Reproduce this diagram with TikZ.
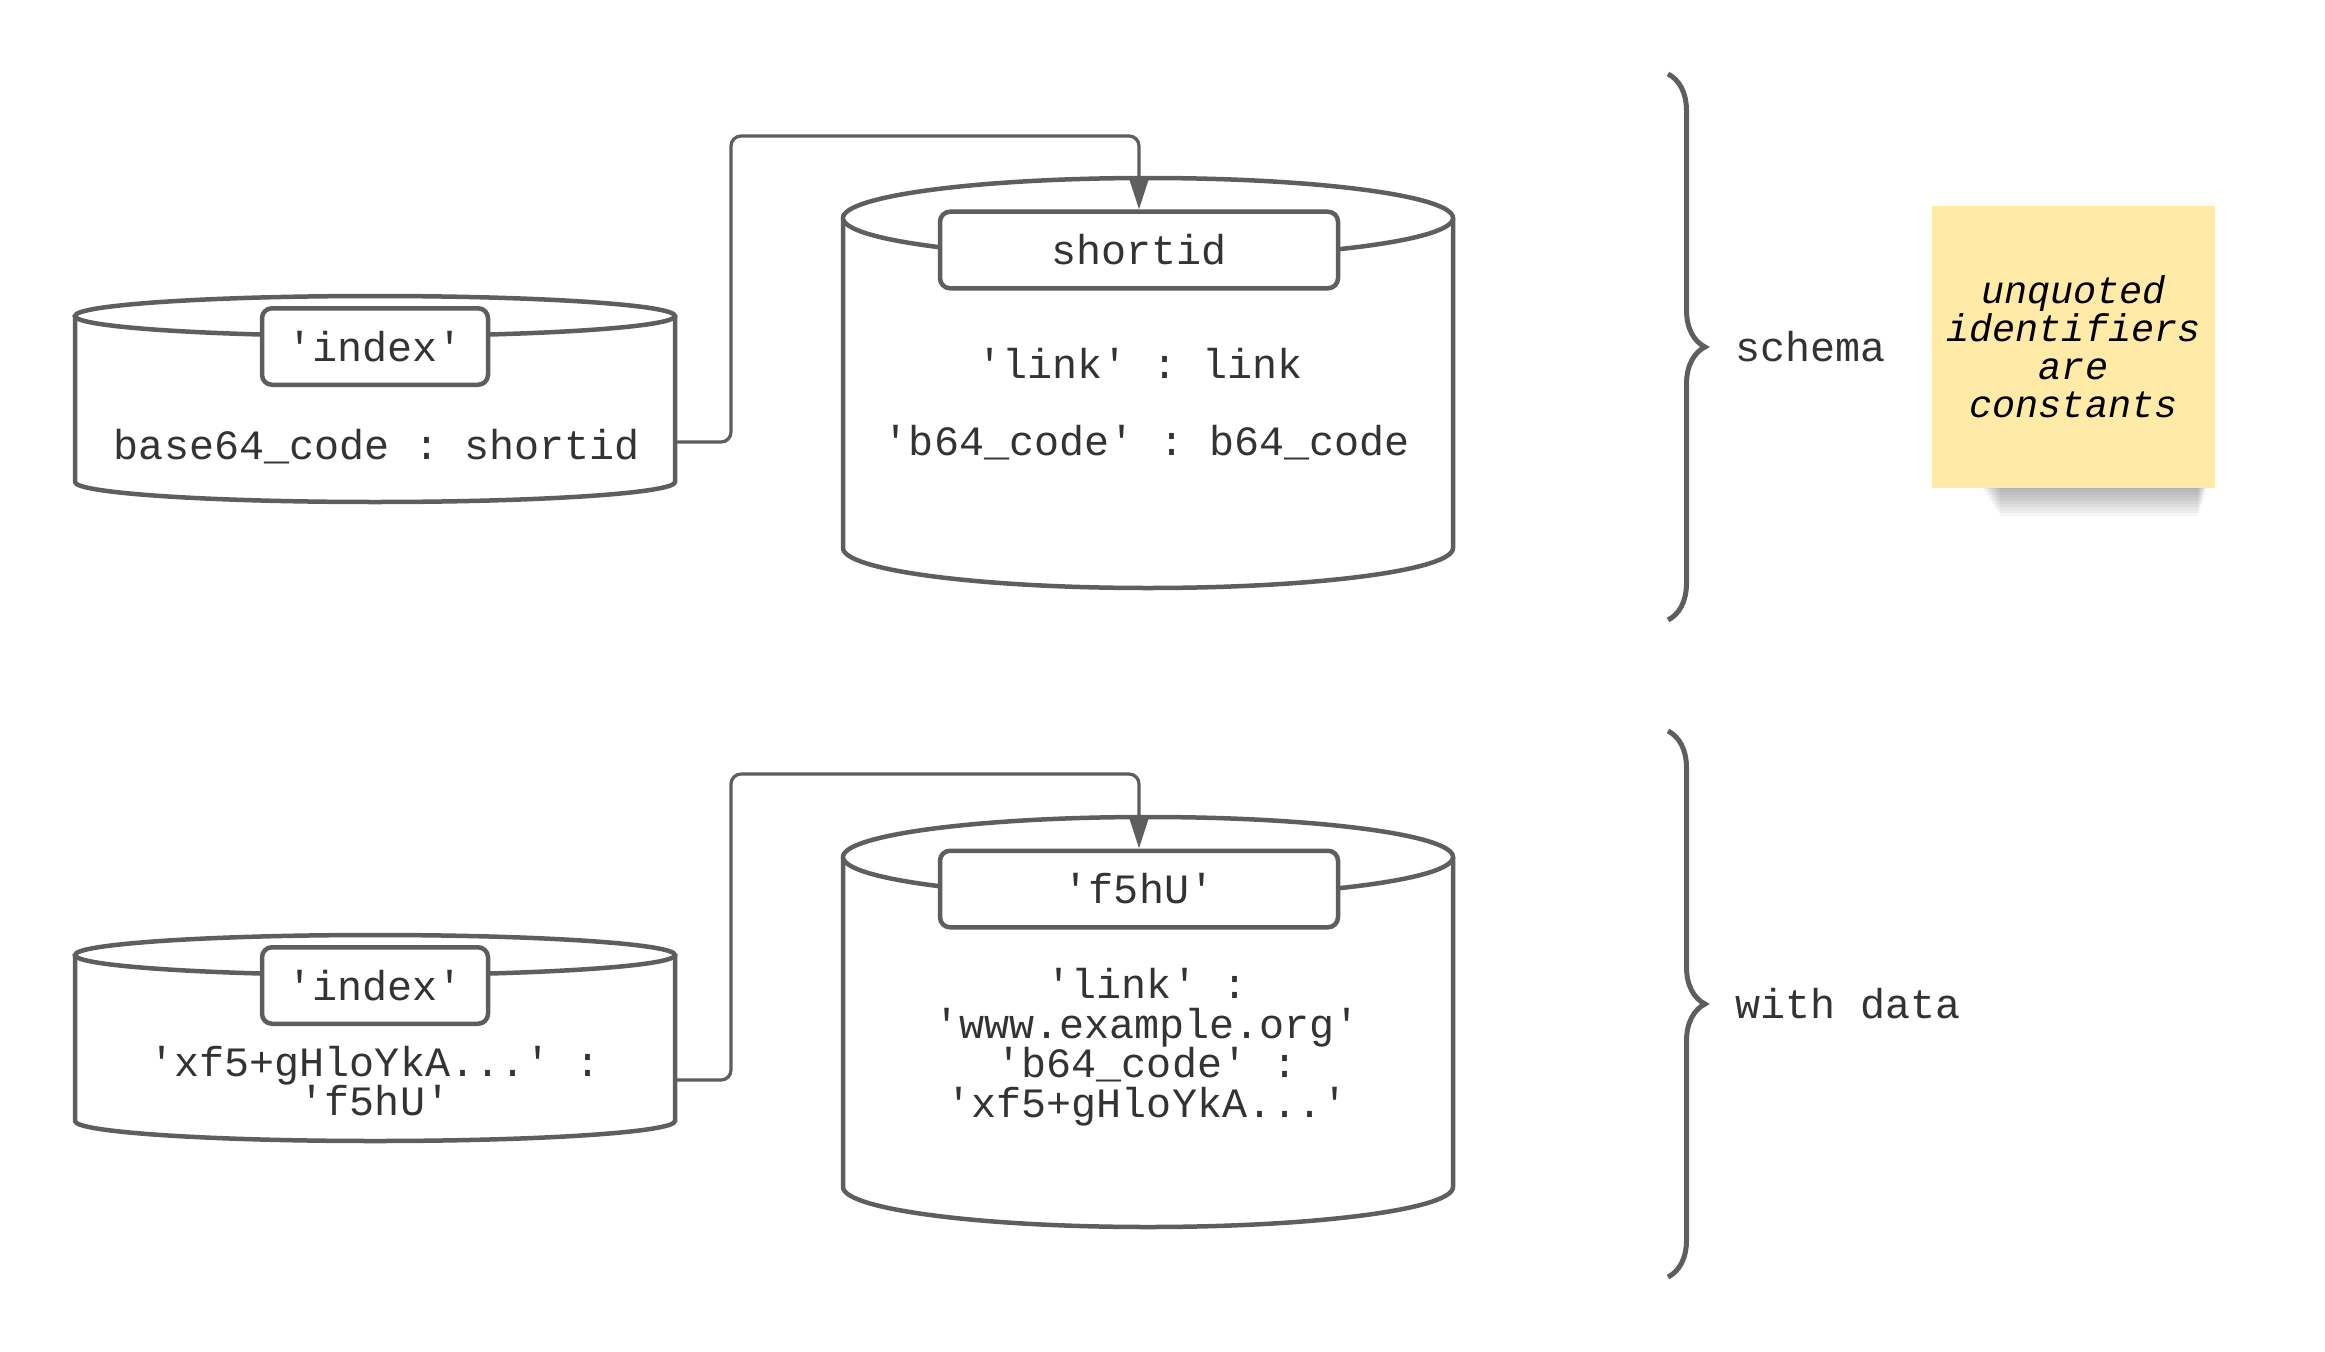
\documentclass[tikz,border=0pt]{standalone}
\usepackage{fontspec}
\setmainfont{Liberation Mono}
\setmonofont{Liberation Mono}
\usetikzlibrary{arrows.meta,decorations.pathreplacing}

\definecolor{linegray}{RGB}{94,94,94}
\definecolor{textgray}{RGB}{51,51,51}
\definecolor{stickyyellow}{RGB}{255,234,168}

\tikzset{
  db/.style={draw=linegray,line width=1.8pt,fill=white},
  keybox/.style={draw=linegray,line width=1.8pt,fill=white,rounded corners=4pt,
    inner sep=0pt,minimum height=30.6pt,text=textgray,font=\ttfamily\fontsize{16.7}{15.8}\selectfont},
  rowtext/.style={inner sep=0pt,text=textgray,align=center,font=\ttfamily\fontsize{16.7}{15.8}\selectfont},
  conn/.style={draw=linegray,line width=1.3pt,rounded corners=4pt,-{Triangle[length=13pt,width=8pt]}},
  bracket/.style={draw=linegray,line width=2pt,decorate,decoration={brace,amplitude=14.8pt}},
  sticky/.style={fill=stickyyellow,inner sep=0pt,minimum width=113.2pt,minimum height=112.8pt,
    align=center,text=black,font=\ttfamily\itshape\fontsize{15.4}{15.2}\selectfont}
}

\begin{document}
\begin{tikzpicture}[x=0.4pt,y=0.4pt]

\useasboundingbox (0,0) rectangle (2325,-1352);

% schema: left table
\draw[db] (75,-316) -- (75,-482) arc[start angle=180,end angle=360,x radius=300,y radius=20] -- (675,-316);
\draw[db] (375,-316) ellipse [x radius=300,y radius=20];
\node[keybox,minimum width=90.4pt] (idxkey) at (375,-346.5) {'index'};
\node[rowtext] (idxrow) at (377,-447) {base64\_code : shortid};
\coordinate (idxout) at (675,-442);

% schema: right table
\draw[db] (843,-218) -- (843,-548) arc[start angle=180,end angle=360,x radius=305,y radius=40] -- (1453,-218);
\draw[db] (1148,-218) ellipse [x radius=305,y radius=40];
\node[keybox,minimum width=159.2pt] (sid) at (1139,-250) {shortid};
\node[rowtext] (linkrow) at (1140,-363) {'link' : link};
\node[rowtext] (coderow) at (1147,-443) {'b64\_code' : b64\_code};

\coordinate (topbend) at (731,-136);
\draw[conn] (idxout) -- (731,-442) -- (topbend) -- (sid.north |- topbend) -- (sid.north);

% with data: left table
\draw[db] (75,-955) -- (75,-1121) arc[start angle=180,end angle=360,x radius=300,y radius=20] -- (675,-955);
\draw[db] (375,-955) ellipse [x radius=300,y radius=20];
\node[keybox,minimum width=90.4pt] (idxkeyd) at (375,-985.5) {'index'};
\node[rowtext] (idxrowd) at (375,-1081) {'xf5+gHloYkA...' :\\'f5hU'};
\coordinate (idxoutd) at (675,-1080);

% with data: right table
\draw[db] (843,-857) -- (843,-1187) arc[start angle=180,end angle=360,x radius=305,y radius=40] -- (1453,-857);
\draw[db] (1148,-857) ellipse [x radius=305,y radius=40];
\node[keybox,minimum width=159.2pt] (sidd) at (1139,-889) {'f5hU'};
\node[rowtext] (rowsd) at (1147,-1047) {'link' :\\'www.example.org'\\'b64\_code' :\\'xf5+gHloYkA...'};

\coordinate (botbend) at (731,-774);
\draw[conn] (idxoutd) -- (731,-1080) -- (botbend) -- (sidd.north |- botbend) -- (sidd.north);

% braces
\draw[bracket] (1668,-74) -- (1668,-620);
\node[rowtext,anchor=west] (schema) at (1735,-347) {schema};
\draw[bracket] (1668,-731) -- (1668,-1277);
\node[rowtext,anchor=west] (withdata) at (1735,-1004) {with data};

% sticky note
\foreach \i in {1,...,10}
  \fill[black,opacity=0.035] (1980+\i*2,-488) rectangle (2208-\i,-486-\i*3);
\node[sticky] (note) at (2073.5,-347) {unquoted\\identifiers\\are\\constants};

\end{tikzpicture}
\end{document}
